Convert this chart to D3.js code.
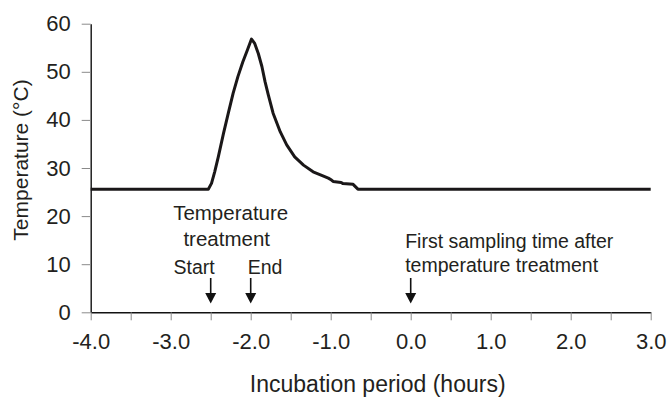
<!DOCTYPE html>
<html>
<head>
<meta charset="utf-8">
<script src="https://cdn.jsdelivr.net/npm/d3@7"></script>
<style>
	body { margin: 0; background: #fff; }
	svg { display: block; font-family: "Liberation Sans", Arial, sans-serif; }
</style>
</head>
<body>
<div id="chart"></div>
<script>
// Temperature profile
const hours = [-4.0, -2.53, -2.49, -2.45, -2.405, -2.34, -2.28, -2.22, -2.16, -2.1, -2.04, -1.99,
	-1.95, -1.905, -1.86, -1.82, -1.78, -1.72, -1.63, -1.55, -1.45, -1.34, -1.22, -1.09,
	-1.03, -0.99, -0.97, -0.87, -0.85, -0.72, -0.66, 3.0];
const temps = [25.6, 25.6, 26.8, 29.2, 32.3, 37.2, 41.4, 45.5, 49.0, 52.0, 54.6, 56.8,
	55.9, 53.8, 51.1, 47.9, 45.2, 41.4, 37.5, 34.8, 32.3, 30.6, 29.2, 28.3,
	27.9, 27.5, 27.2, 27.0, 26.8, 26.6, 25.6, 25.6];

const yTicks = [0, 10, 20, 30, 40, 50, 60];
const xTicks = [-4, -3.5, -3, -2.5, -2, -1.5, -1, -0.5, 0, 0.5, 1, 1.5, 2, 2.5, 3];

// Arrow annotations (time in hours)
const arrowHours = [-2.5, -2.0, 0.0];

const width = 669;
const height = 397;
const margin = { top: 23.7, right: 18.3, bottom: 84.7, left: 90.7 };

const svg = d3.select("#chart")
	.append("svg")
	.attr("width", width)
	.attr("height", height);

const x = d3.scaleLinear()
	.domain([-4, 3])
	.range([margin.left, width - margin.right]);

const y = d3.scaleLinear()
	.domain([0, 60])
	.range([height - margin.bottom, margin.top]);

// Axes
const yAxis = svg.append("g")
	.attr("transform", `translate(${margin.left},0)`)
	.call(d3.axisLeft(y).tickValues(yTicks).tickSize(9).tickSizeOuter(0).tickPadding(11));

const xAxis = svg.append("g")
	.attr("transform", `translate(0,${height - margin.bottom})`)
	.call(d3.axisBottom(x)
		.tickValues(xTicks)
		.tickSize(8)
		.tickSizeOuter(0)
		.tickPadding(13)
		.tickFormat((d) => (Number.isInteger(d) ? d.toFixed(1) : "")));

[yAxis, xAxis].forEach((g) => {
	g.select(".domain").attr("stroke", "#111").attr("stroke-width", 1.4);
	g.selectAll(".tick line").attr("stroke", "#8a8a8a").attr("stroke-width", 1);
	g.selectAll(".tick text")
		.attr("fill", "#231f20")
		.style("font-size", "22px")
		.style("font-family", "'Liberation Sans', Arial, sans-serif");
});

// Axis titles
svg.append("text")
	.attr("x", (x(-4) + x(3)) / 2 + 7)
	.attr("y", 392)
	.attr("text-anchor", "middle")
	.attr("fill", "#231f20")
	.style("font-size", "23px")
	.text("Incubation period (hours)");

svg.append("text")
	.attr("transform", "translate(28,160) rotate(-90)")
	.attr("text-anchor", "middle")
	.attr("fill", "#231f20")
	.style("font-size", "21px")
	.text("Temperature (°C)");

// Temperature curve
const line = d3.line()
	.x((d, i) => x(hours[i]))
	.y((d) => y(d));

svg.append("path")
	.datum(temps)
	.attr("fill", "none")
	.attr("stroke", "#1a1718")
	.attr("stroke-width", 3)
	.attr("stroke-linejoin", "round")
	.attr("d", line);

// Arrows
const arrows = svg.append("g").attr("class", "arrows");
arrowHours.forEach((h) => {
	const ax = x(h);
	arrows.append("line")
		.attr("x1", ax).attr("x2", ax)
		.attr("y1", 278).attr("y2", 295)
		.attr("stroke", "#111")
		.attr("stroke-width", 1.6);
	arrows.append("path")
		.attr("d", `M${ax - 5.5},293 L${ax + 5.5},293 L${ax},303.5 Z`)
		.attr("fill", "#111");
});

// Annotation text
const note = svg.append("g")
	.attr("fill", "#231f20")
	.style("font-size", "19.5px");

note.append("text")
	.attr("x", x(-2.25))
	.attr("y", 220)
	.attr("text-anchor", "middle")
	.style("font-size", "20.5px")
	.text("Temperature");

note.append("text")
	.attr("x", x(-2.3))
	.attr("y", 246)
	.attr("text-anchor", "middle")
	.style("font-size", "20.5px")
	.text("treatment");

note.append("text")
	.attr("x", x(-2.5) + 4)
	.attr("y", 274)
	.attr("text-anchor", "end")
	.text("Start");

note.append("text")
	.attr("x", x(-2.0) - 3)
	.attr("y", 274)
	.text("End");

note.append("text")
	.attr("x", x(0) - 5.5)
	.attr("y", 248)
	.text("First sampling time after");

note.append("text")
	.attr("x", x(0) - 5.5)
	.attr("y", 272)
	.text("temperature treatment");
</script>
</body>
</html>
